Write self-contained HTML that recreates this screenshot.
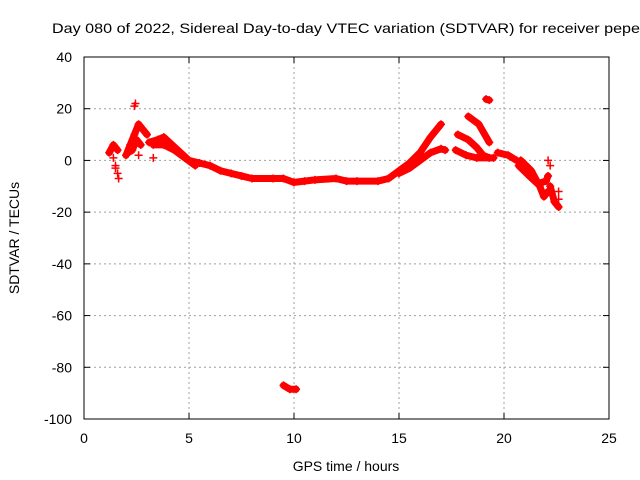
<!DOCTYPE html>
<html><head><meta charset="utf-8"><style>
body{margin:0;background:#fff;}
svg{display:block;font-family:"Liberation Sans",sans-serif;}
</style></head><body>
<svg id="chart" width="640" height="480">
<text x="52" y="33" font-size="14" textLength="588" lengthAdjust="spacingAndGlyphs">Day 080 of 2022, Sidereal Day-to-day VTEC variation (SDTVAR) for receiver pepe</text>
<g id="grid"></g>
<g id="ticks"></g>
<g id="marks"></g>
<rect x="84" y="57" width="525" height="362" fill="none" stroke="#000" stroke-width="1"/>
<text x="346" y="471" font-size="14" text-anchor="middle">GPS time / hours</text>
<text transform="translate(19,238) rotate(-90)" font-size="14" text-anchor="middle">SDTVAR / TECUs</text>
</svg>
<script>
const xTicks=[0,5,10,15,20,25];
const yTicks=[40,20,0,-20,-40,-60,-80,-100];
const track1H=[1.2,1.4,1.6];const track1V=[3,6,4];
const track2H=[2.0,2.2,2.4,2.6,2.8,3.0];const track2V=[2,6,10,14,12,10];
const track2bH=[2.1,2.3,2.5,2.7];const track2bV=[3,4,8,6];
const track3H=[3.1,3.5,3.8,4.2,4.6,5.0,5.5,6,6.5,7,7.5,8,9,9.5,10,10.5,11,12,12.5,13,14,14.5,15,15.5,16,16.5,17];
const track3V=[7,8,9,6,3,0,-1,-2,-4,-5,-6,-7,-7,-7,-8.5,-8,-7.5,-7,-8,-8,-8,-7,-4,-1,3,9,14];
const track3bH=[3.3,3.8,4.3,4.8,5.3];const track3bV=[6,6,4,1,-2];
const track4H=[15,15.5,16,16.5,17,17.2];const track4V=[-5,-3,0,3,4.5,4];
const track5H=[17.7,18.2,18.7,19.5];const track5V=[4,2,1,1];
const track6H=[17.8,18.3,18.7,19,19.3];const track6V=[10,8,5,2,1];
const track7H=[18.3,18.8,19.3];const track7V=[17,14,7];
const track8H=[19.15,19.3];const track8V=[23.7,23.3];
const track9H=[19.7,20.2,20.6];const track9V=[3,2,0];
const track10H=[20.7,21.2,21.6,22,22.1];const track10V=[-2,-6,-9,-8,-6];
const track11H=[20.8,21.3,21.7,21.9,22.1];const track11V=[0,-4,-10,-14,-12];
const track12H=[22.2,22.4,22.6];const track12V=[-10,-16,-18];
const track13H=[9.5,9.8,10.1];const track13V=[-87,-88.5,-88.5];
const scatterH=[1.5,1.6,1.65,2.4,2.45,2.6,3.3,22.6,22.6,22.1,22.2,1.5,1.4];
const scatterV=[-2,-5,-7,21,22,2,1,-12,-15,0,-2,-3,1];
const tracks=[[track1H,track1V],[track2H,track2V],[track2bH,track2bV],[track3H,track3V],[track3bH,track3bV],[track4H,track4V],[track5H,track5V],[track6H,track6V],[track7H,track7V],[track8H,track8V],[track9H,track9V],[track10H,track10V],[track11H,track11V],[track12H,track12V],[track13H,track13V]];
const NS='http://www.w3.org/2000/svg';
const X=h=>84+h*21;
const Y=v=>57+(40-v)*362/140;
const grid=document.getElementById('grid'),ticks=document.getElementById('ticks'),marks=document.getElementById('marks');
function mk(t,a,p){const e=document.createElementNS(NS,t);for(const k in a)e.setAttribute(k,a[k]);p.appendChild(e);return e;}
xTicks.forEach(t=>{
 if(t>0&&t<25){const g=mk('line',{x1:X(t),x2:X(t),y1:57,y2:419,stroke:'#a0a0a0','stroke-dasharray':'2,3'},grid);
 
 }
 mk('line',{x1:X(t),x2:X(t),y1:419,y2:413,stroke:'#000'},ticks);
 mk('line',{x1:X(t),x2:X(t),y1:57,y2:63,stroke:'#000'},ticks);
 const l=mk('text',{x:X(t),y:443,'font-size':14,'text-anchor':'middle'},ticks);l.textContent=t;
 
 
});
yTicks.forEach(t=>{
 if(t<40&&t>-100){const g=mk('line',{x1:84,x2:609,y1:Y(t),y2:Y(t),stroke:'#a0a0a0','stroke-dasharray':'2,3'},grid);
 
 }
 mk('line',{x1:84,x2:90,y1:Y(t),y2:Y(t),stroke:'#000'},ticks);
 mk('line',{x1:603,x2:609,y1:Y(t),y2:Y(t),stroke:'#000'},ticks);
 const l=mk('text',{x:72,y:Y(t)+5,'font-size':14,'text-anchor':'end'},ticks);l.textContent=t;
 
 
});
function plus(h,v){const x=X(h),y=Y(v);
 const p=mk('path',{d:`M${x-4},${y}H${x+4}M${x},${y-4}V${y+4}`,stroke:'#f00','stroke-width':1.5},marks);
 
 }
tracks.forEach(([H,V])=>{
 const pl=mk('polyline',{points:H.map((h,i)=>X(h)+','+Y(V[i])).join(' '),fill:'none',stroke:'#f00','stroke-width':7,'stroke-linejoin':'round','stroke-linecap':'round'},marks);
 
 
 H.forEach((h,i)=>plus(h,V[i]));
});
scatterH.forEach((h,i)=>plus(h,scatterV[i]));
</script>
</body></html>
